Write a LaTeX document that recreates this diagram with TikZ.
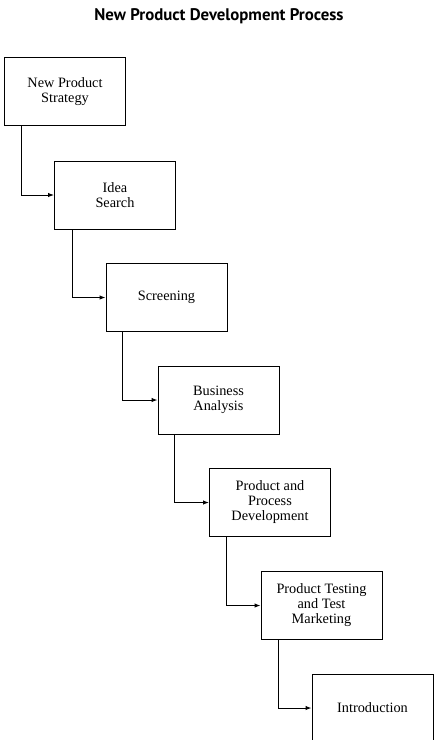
\documentclass[tikz,border=0pt]{standalone}
\usepackage{fontspec}
\setmainfont{Liberation Serif}
\newfontfamily\titlefont{PT Sans}
\usetikzlibrary{arrows.meta}
\begin{document}
\begin{tikzpicture}[x=1pt,y=-1pt,
  stage/.style={draw, line width=1pt, minimum width=121pt, minimum height=68pt,
    inner sep=0pt, align=center, font=\fontsize{14.3}{15}\selectfont},
  conn/.style={line width=1pt, -{Latex[length=6pt,width=4.5pt]}}]
\clip (0,0) rectangle (436,740);
\fill[white] (0,0) rectangle (436,740);
\node (title) at (219,16) {\titlefont\bfseries\fontsize{16.8}{18}\selectfont New Product Development Process};
\node[stage] (b1) at (65,91.5) {New Product\\Strategy};
\node[stage] (b2) at (115,195) {Idea\\Search};
\node[stage] (b3) at (166.5,297.5) {Screening};
\node[stage] (b4) at (218.5,400) {Business\\Analysis};
\node[stage] (b5) at (270,502.5) {Product and\\Process\\Development};
\node[stage] (b6) at (321.5,605.5) {Product Testing\\and Test\\Marketing};
\node[stage] (b7) at (372.5,708) {Introduction};
\draw[conn] ([xshift=17pt]b1.south west) |- (b2.west);
\draw[conn] ([xshift=18pt]b2.south west) |- (b3.west);
\draw[conn] ([xshift=17pt]b3.south west) |- (b4.west);
\draw[conn] ([xshift=17pt]b4.south west) |- (b5.west);
\draw[conn] ([xshift=17pt]b5.south west) |- (b6.west);
\draw[conn] ([xshift=18pt]b6.south west) |- (b7.west);
\end{tikzpicture}
\end{document}
